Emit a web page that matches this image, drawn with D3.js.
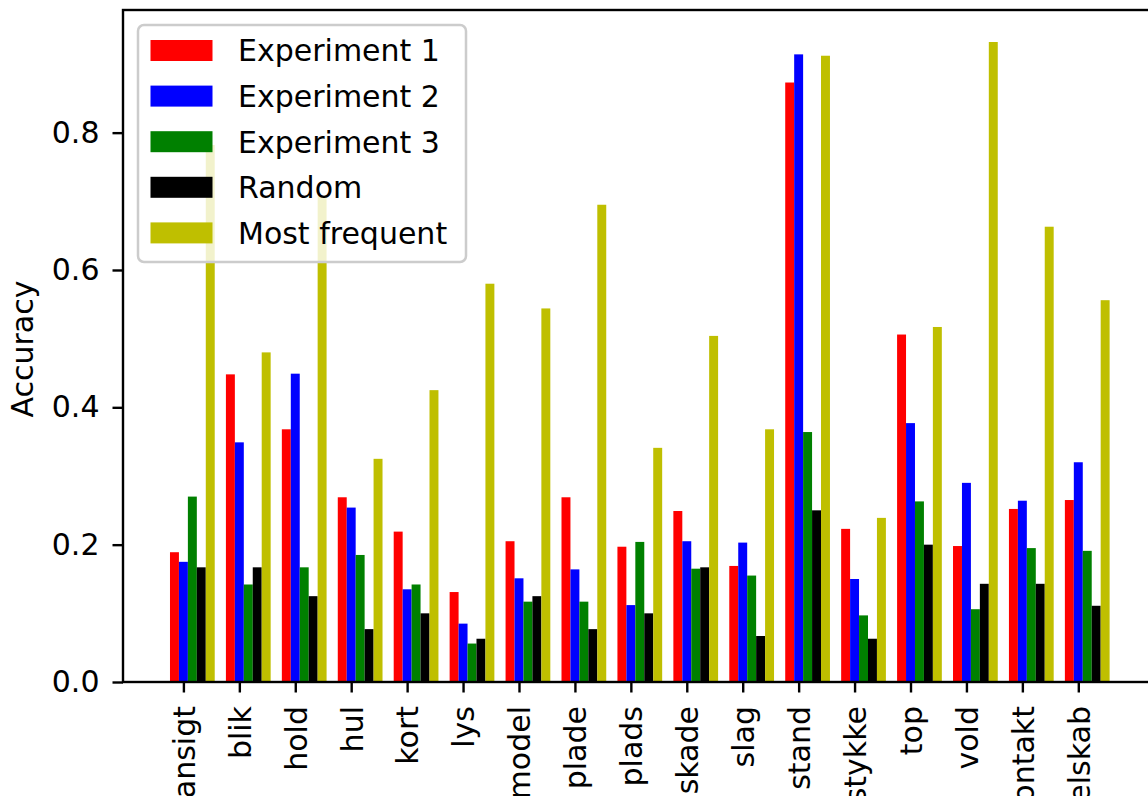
<!DOCTYPE html>
<html>
<head>
<meta charset="utf-8">
<script src="https://cdn.jsdelivr.net/npm/d3@7"></script>
<style>
    body { margin: 0; background: #fff; overflow: hidden; }
    svg { display: block; font-family: "DejaVu Sans", sans-serif; }
</style>
</head>
<body>
<svg class="canvas" width="1148" height="796"></svg>
<script>
const categories = ['ansigt', 'blik', 'hold', 'hul', 'kort', 'lys', 'model', 'plade', 'plads', 'skade', 'slag', 'stand', 'stykke', 'top', 'vold', 'kontakt', 'selskab'];

const experiment1 = [0.189, 0.448, 0.368, 0.269, 0.219, 0.131, 0.205, 0.269, 0.197, 0.249, 0.169, 0.873, 0.223, 0.506, 0.198, 0.252, 0.265];
const experiment2 = [0.175, 0.349, 0.449, 0.254, 0.135, 0.085, 0.151, 0.164, 0.112, 0.205, 0.203, 0.914, 0.150, 0.377, 0.290, 0.264, 0.320];
const experiment3 = [0.270, 0.142, 0.167, 0.185, 0.142, 0.056, 0.117, 0.117, 0.204, 0.165, 0.155, 0.364, 0.097, 0.263, 0.106, 0.195, 0.191];
const random = [0.167, 0.167, 0.125, 0.077, 0.100, 0.063, 0.125, 0.077, 0.100, 0.167, 0.067, 0.250, 0.063, 0.200, 0.143, 0.143, 0.111];
const mostFrequent = [0.782, 0.480, 0.708, 0.325, 0.425, 0.580, 0.544, 0.695, 0.341, 0.504, 0.368, 0.912, 0.239, 0.517, 0.932, 0.663, 0.556];

const seriesNames = ['Experiment 1', 'Experiment 2', 'Experiment 3', 'Random', 'Most frequent'];
const yTicks = [0, 0.2, 0.4, 0.6, 0.8];

const series = [
    { name: seriesNames[0], values: experiment1, fill: '#ff0000' },
    { name: seriesNames[1], values: experiment2, fill: '#0000ff' },
    { name: seriesNames[2], values: experiment3, fill: '#008000' },
    { name: seriesNames[3], values: random, fill: '#000000' },
    { name: seriesNames[4], values: mostFrequent, fill: '#bfbf00' }
];

const barWidth = 0.16;
const fontSize = 30;
const plotLeft = 123, plotTop = 10, plotBottom = 682, plotRight = 1156.6;

// matplotlib style limits: 5% margin round the bars
const xMin = -barWidth / 2, xMax = categories.length - 1 + 4.5 * barWidth;
const xPad = (xMax - xMin) * 0.05;
const x = d3.scaleLinear()
    .domain([xMin - xPad, xMax + xPad])
    .range([plotLeft, plotRight]);

const y = d3.scaleLinear()
    .domain([0, d3.max(mostFrequent) * 1.05])
    .range([plotBottom, plotTop]);

const canvas = d3.select('.canvas');

// bars
series.forEach((s, k) => {
    canvas.append('g')
        .selectAll('rect')
        .data(s.values)
        .enter()
        .append('rect')
        .attr('x', (d, i) => x(i + k * barWidth - barWidth / 2))
        .attr('width', (d, i) => x(i + k * barWidth + barWidth / 2) - x(i + k * barWidth - barWidth / 2))
        .attr('y', d => y(d))
        .attr('height', d => y(0) - y(d))
        .attr('fill', s.fill);
});

// axes
const xAxis = d3.axisBottom(x)
    .tickValues(categories.map((c, i) => i + barWidth))
    .tickFormat((d, i) => categories[i])
    .tickSizeOuter(0)
    .tickSize(10.5)
    .tickPadding(13.5);

canvas.append('g')
    .attr('transform', `translate(0, ${plotBottom})`)
    .call(xAxis)
    .call(g => g.select('.domain').remove())
    .call(g => g.selectAll('line').attr('stroke-width', 2.4))
    .call(g => g.selectAll('text')
        .attr('font-size', fontSize)
        .attr('font-family', 'DejaVu Sans')
        .attr('fill', '#000')
        .attr('transform', 'rotate(-90)')
        .attr('text-anchor', 'end')
        .attr('x', -24)
        .attr('y', 0)
        .attr('dy', '0.36em'));

const yAxis = d3.axisLeft(y)
    .tickValues(yTicks)
    .tickFormat(d3.format('.1f'))
    .tickSizeOuter(0)
    .tickSize(10.5)
    .tickPadding(13);

canvas.append('g')
    .attr('transform', `translate(${plotLeft}, 0)`)
    .call(yAxis)
    .call(g => g.select('.domain').remove())
    .call(g => g.selectAll('line').attr('stroke-width', 2.4))
    .call(g => g.selectAll('text')
        .attr('font-size', fontSize)
        .attr('font-family', 'DejaVu Sans')
        .attr('fill', '#000'));

// frame
canvas.append('rect')
    .attr('x', plotLeft)
    .attr('y', plotTop)
    .attr('width', plotRight - plotLeft)
    .attr('height', plotBottom - plotTop)
    .attr('fill', 'none')
    .attr('stroke', '#000')
    .attr('stroke-width', 2.4);

canvas.append('text')
    .attr('transform', `translate(33, ${(plotTop + plotBottom) / 2 + 3}) rotate(-90)`)
    .attr('text-anchor', 'middle')
    .attr('font-size', fontSize)
    .text('Accuracy');

// legend
const legend = canvas.append('g')
    .attr('transform', 'translate(138, 25)');

legend.append('rect')
    .attr('width', 328)
    .attr('height', 237)
    .attr('rx', 6)
    .attr('fill', '#fff')
    .attr('fill-opacity', 0.8)
    .attr('stroke', '#cccccc')
    .attr('stroke-width', 2.5);

const rowGap = 45.6;
legend.selectAll('g.item')
    .data(series)
    .enter()
    .append('g')
    .attr('class', 'item')
    .attr('transform', (d, i) => `translate(0, ${25.5 + i * rowGap})`)
    .call(g => g.append('rect')
        .attr('x', 12.5)
        .attr('y', -10.5)
        .attr('width', 62)
        .attr('height', 21)
        .attr('fill', d => d.fill))
    .call(g => g.append('text')
        .attr('x', 100)
        .attr('dy', '0.36em')
        .attr('font-size', fontSize)
        .text(d => d.name));
</script>
</body>
</html>
